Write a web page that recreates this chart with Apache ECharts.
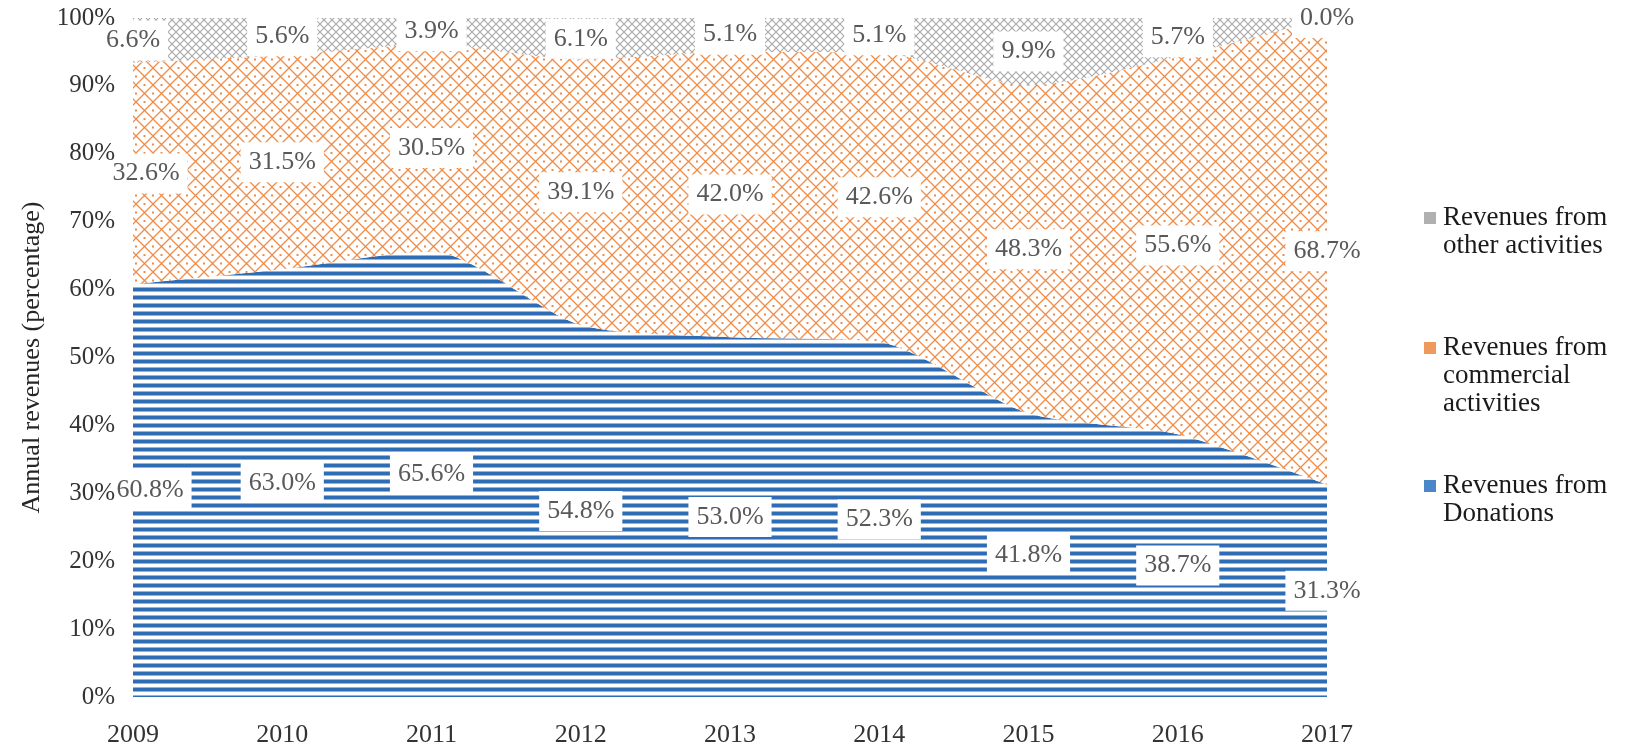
<!DOCTYPE html>
<html>
<head>
<meta charset="utf-8">
<script src="https://cdn.jsdelivr.net/npm/echarts@6/dist/echarts.min.js"></script>
<style>
  html, body { margin: 0; padding: 0; background: #fff; }
  #main { width: 1633px; height: 748px; }
</style>
</head>
<body>
<div id="main"></div>
<script>
// 年份
var years = ['2009', '2010', '2011', '2012', '2013', '2014', '2015', '2016', '2017'];
// 各项收入占比 (%)
var donations  = [60.8, 63.0, 65.6, 54.8, 53.0, 52.3, 41.8, 38.7, 31.3];
var commercial = [32.6, 31.5, 30.5, 39.1, 42.0, 42.6, 48.3, 55.6, 68.7];
var other      = [6.6, 5.6, 3.9, 6.1, 5.1, 5.1, 9.9, 5.7, 0.0];
var yTicks = [0, 10, 20, 30, 40, 50, 60, 70, 80, 90, 100];

var nameDon = 'Revenues from Donations';
var nameCom = 'Revenues from commercial activities';
var nameOth = 'Revenues from other activities';
var legendText = {};
legendText[nameOth] = 'Revenues from\nother activities';
legendText[nameCom] = 'Revenues from\ncommercial\nactivities';
legendText[nameDon] = 'Revenues from\nDonations';

var serif = '"Liberation Serif", "DejaVu Serif", serif';
var LH = 28;

//横条纹
function stripePattern() {
    var c = document.createElement('canvas');
    c.width = 8; c.height = 8;
    var ctx = c.getContext('2d');
    ctx.fillStyle = '#fff';
    ctx.fillRect(0, 0, 8, 8);
    ctx.fillStyle = '#2e6cb4';
    ctx.fillRect(0, 0, 8, 3);
    ctx.fillStyle = '#8fb3df';
    ctx.fillRect(0, 3, 8, 1);
    ctx.fillRect(0, 7, 8, 1);
    return c;
}
//网格
function latticePattern(size, color, width, dots) {
    var c = document.createElement('canvas');
    c.width = size; c.height = size;
    var ctx = c.getContext('2d');
    ctx.fillStyle = '#fff';
    ctx.fillRect(0, 0, size, size);
    ctx.strokeStyle = color;
    ctx.lineWidth = width;
    ctx.beginPath();
    ctx.moveTo(0, 0); ctx.lineTo(size, size);
    ctx.moveTo(size, 0); ctx.lineTo(0, size);
    ctx.stroke();
    if (dots) {
        ctx.fillStyle = color;
        var h = size / 2;
        [[h, 0], [0, h], [size, h], [h, size]].forEach(function (p) {
            ctx.fillRect(p[0] - 1, p[1] - 1, 2, 2);
        });
    }
    return c;
}
// 图例图标：方块放在第一行
function legendIcon(color, lines) {
    var c = document.createElement('canvas');
    c.width = 14; c.height = lines * LH;
    var ctx = c.getContext('2d');
    ctx.fillStyle = color;
    ctx.fillRect(1, (LH - 12) / 2, 12, 12);
    return 'image://' + c.toDataURL();
}

var patDon = { image: stripePattern(), repeat: 'repeat' };
var patCom = { image: latticePattern(17, '#ef8c48', 1.3, true), repeat: 'repeat' };
var patOth = { image: latticePattern(8, '#a8a8a8', 1.1, false), repeat: 'repeat' };

function areaSeries(name, data, pattern, solid) {
    return {
        name: name,
        type: 'line',
        stack: 'total',
        data: data,
        smooth: 0.25,
        symbol: 'none',
        lineStyle: { width: 0 },
        itemStyle: { color: solid },
        areaStyle: { color: pattern, opacity: 1 },
        emphasis: { disabled: true },
        z: 2
    };
}

// 标签放在每块面积的中间，第一个标签稍微右移，避开刻度文字
function labelSeries(values, bases, firstShift) {
    var pts = values.map(function (v, i) {
        var item = { value: [i, bases[i] + v / 2] };
        if (i === 0 && firstShift) {
            item.label = { offset: [firstShift, 0] };
        }
        return item;
    });
    return {
        type: 'scatter',
        data: pts,
        symbolSize: 2,
        itemStyle: { color: 'rgba(255,255,255,0)', opacity: 1 },
        silent: true,
        z: 10,
        label: {
            show: true,
            opacity: 1,
            position: 'inside',
            formatter: function (p) { return values[p.dataIndex].toFixed(1) + '%'; },
            backgroundColor: '#fff',
            padding: [8, 8, 6, 8],
            color: '#595959',
            fontFamily: serif,
            fontSize: 26
        }
    };
}

var baseDon = donations.map(function () { return 0; });
var baseCom = donations.slice();
var baseOth = donations.map(function (d, i) { return d + commercial[i]; });

function legendBlock(name, top, lines, color) {
    return {
        data: [name],
        left: 1418,
        top: top,
        orient: 'vertical',
        icon: legendIcon(color, lines),
        itemWidth: 14,
        itemHeight: lines * LH,
        itemGap: 0,
        selectedMode: false,
        formatter: function (n) { return legendText[n]; },
        textStyle: {
            fontFamily: serif,
            fontSize: 27,
            lineHeight: LH,
            color: '#1a1a1a',
            padding: [0, 0, 0, 1]
        }
    };
}

var chart = echarts.init(document.getElementById('main'));
chart.setOption({
    backgroundColor: '#fff',
    animation: false,
    grid: { left: 133, right: 306, top: 18, bottom: 49 },
    legend: [
        legendBlock(nameOth, 199, 2, '#b0b0b0'),
        legendBlock(nameCom, 329, 3, '#ef9a5c'),
        legendBlock(nameDon, 467, 2, '#4a86c8')
    ],
    xAxis: {
        type: 'category',
        data: years,
        boundaryGap: false,
        axisLine: { show: false },
        axisTick: { show: false },
        splitLine: { show: false },
        axisLabel: {
            margin: 25,
            fontFamily: serif,
            fontSize: 26,
            color: '#333'
        }
    },
    yAxis: {
        type: 'value',
        z: 20,
        min: yTicks[0],
        max: yTicks[yTicks.length - 1],
        interval: 10,
        name: 'Annual revenues (percentage)',
        nameLocation: 'middle',
        nameGap: 88,
        nameTextStyle: { fontFamily: serif, fontSize: 26, color: '#262626' },
        axisLine: { show: false },
        axisTick: { show: false },
        splitLine: { show: false },
        axisLabel: {
            margin: 18,
            fontFamily: serif,
            fontSize: 25,
            color: '#333',
            formatter: '{value}%'
        }
    },
    series: [
        areaSeries(nameDon, donations, patDon, '#4a86c8'),
        areaSeries(nameCom, commercial, patCom, '#ef9a5c'),
        areaSeries(nameOth, other, patOth, '#b0b0b0'),
        labelSeries(donations, baseDon, 17),
        labelSeries(commercial, baseCom, 13),
        labelSeries(other, baseOth, 0)
    ]
});
</script>
</body>
</html>
